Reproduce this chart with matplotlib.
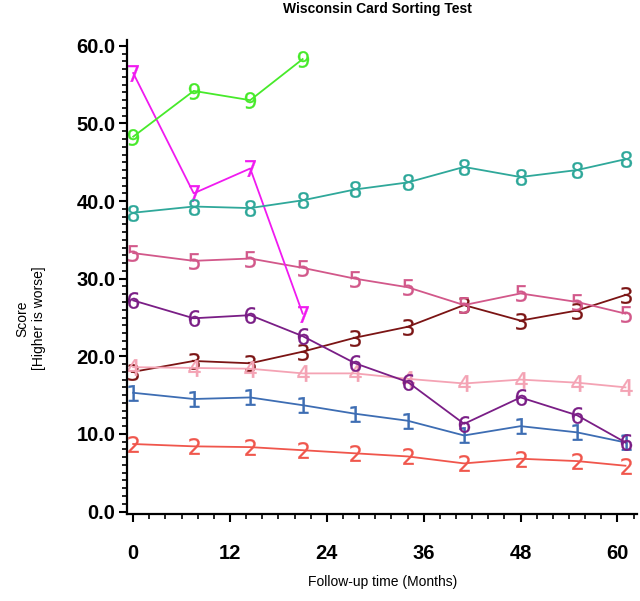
import matplotlib
matplotlib.use("Agg")
import matplotlib.pyplot as plt
from matplotlib.ticker import MultipleLocator, FormatStrFormatter

# follow-up visits (months)
months = [0, 7.5, 14.5, 21, 27.5, 34, 41, 48, 55, 61]

# group scores, one list per group label
g1 = [15.3, 14.5, 14.7, 13.7, 12.6, 11.7, 9.8, 11.0, 10.2, 8.9]
g2 = [8.7, 8.4, 8.3, 7.9, 7.5, 7.1, 6.2, 6.8, 6.5, 5.9]
g3 = [18.0, 19.4, 19.1, 20.6, 22.4, 23.8, 26.6, 24.6, 25.9, 27.9]
g4 = [18.6, 18.5, 18.4, 17.8, 17.8, 17.1, 16.5, 17.0, 16.6, 16.0]
g5 = [33.3, 32.3, 32.6, 31.4, 30.0, 28.9, 26.6, 28.1, 27.0, 25.5]
g6 = [27.2, 24.9, 25.3, 22.6, 19.1, 16.7, 11.3, 14.7, 12.4, 8.9]
g7 = [56.5, 41.0, 44.2, 25.5]
g8 = [38.5, 39.3, 39.1, 40.1, 41.5, 42.4, 44.4, 43.1, 44.0, 45.4]
g9 = [48.3, 54.2, 53.0, 58.3]

groups = [
    ("1", g1, "#3d6db3"),
    ("2", g2, "#f0564c"),
    ("3", g3, "#7b1414"),
    ("4", g4, "#f4a3b4"),
    ("5", g5, "#d2588a"),
    ("6", g6, "#7a1e86"),
    ("7", g7, "#f01af0"),
    ("8", g8, "#2fa89a"),
    ("9", g9, "#47ea2a"),
]

plt.rcParams["font.family"] = ["Liberation Sans", "DejaVu Sans"]

fig = plt.figure(figsize=(6.4, 6.01), dpi=100)
ax = fig.add_axes([0.198, 0.145, 0.797, 0.789])

for label, vals, col in groups:
    ax.plot(months[:len(vals)], vals, color=col, lw=1.3,
            marker=f"${label}$", markersize=12, markeredgewidth=0.2,
            markerfacecolor=col, markeredgecolor=col)

ax.set_xlim(-0.8, 62.4)
ax.set_ylim(-0.3, 60.8)
ax.xaxis.set_major_locator(MultipleLocator(12))
ax.xaxis.set_minor_locator(MultipleLocator(2))
ax.yaxis.set_major_locator(MultipleLocator(10))
ax.yaxis.set_minor_locator(MultipleLocator(1))
ax.yaxis.set_major_formatter(FormatStrFormatter("%.1f"))

for s in ["top", "right"]:
    ax.spines[s].set_visible(False)
for s in ["left", "bottom"]:
    ax.spines[s].set_linewidth(1.6)

ax.tick_params(axis="both", which="major", length=6, width=1.5,
               labelsize=14.5)
ax.tick_params(axis="both", which="minor", length=3.5, width=1.2)
ax.tick_params(axis="x", which="major", pad=16)
ax.tick_params(axis="y", which="major", pad=2)
for t in ax.get_xticklabels() + ax.get_yticklabels():
    t.set_fontweight("bold")

fig.text(0.59, 0.985, "Wisconsin Card Sorting Test", ha="center", va="center",
         fontsize=10, fontweight="bold")
fig.text(0.598, 0.032, "Follow-up time (Months)", ha="center", va="center",
         fontsize=10)
fig.text(0.048, 0.47, "Score\n[Higher is worse]", ha="center", va="center",
         rotation=90, fontsize=10)

fig.savefig("out.png", dpi=100)
